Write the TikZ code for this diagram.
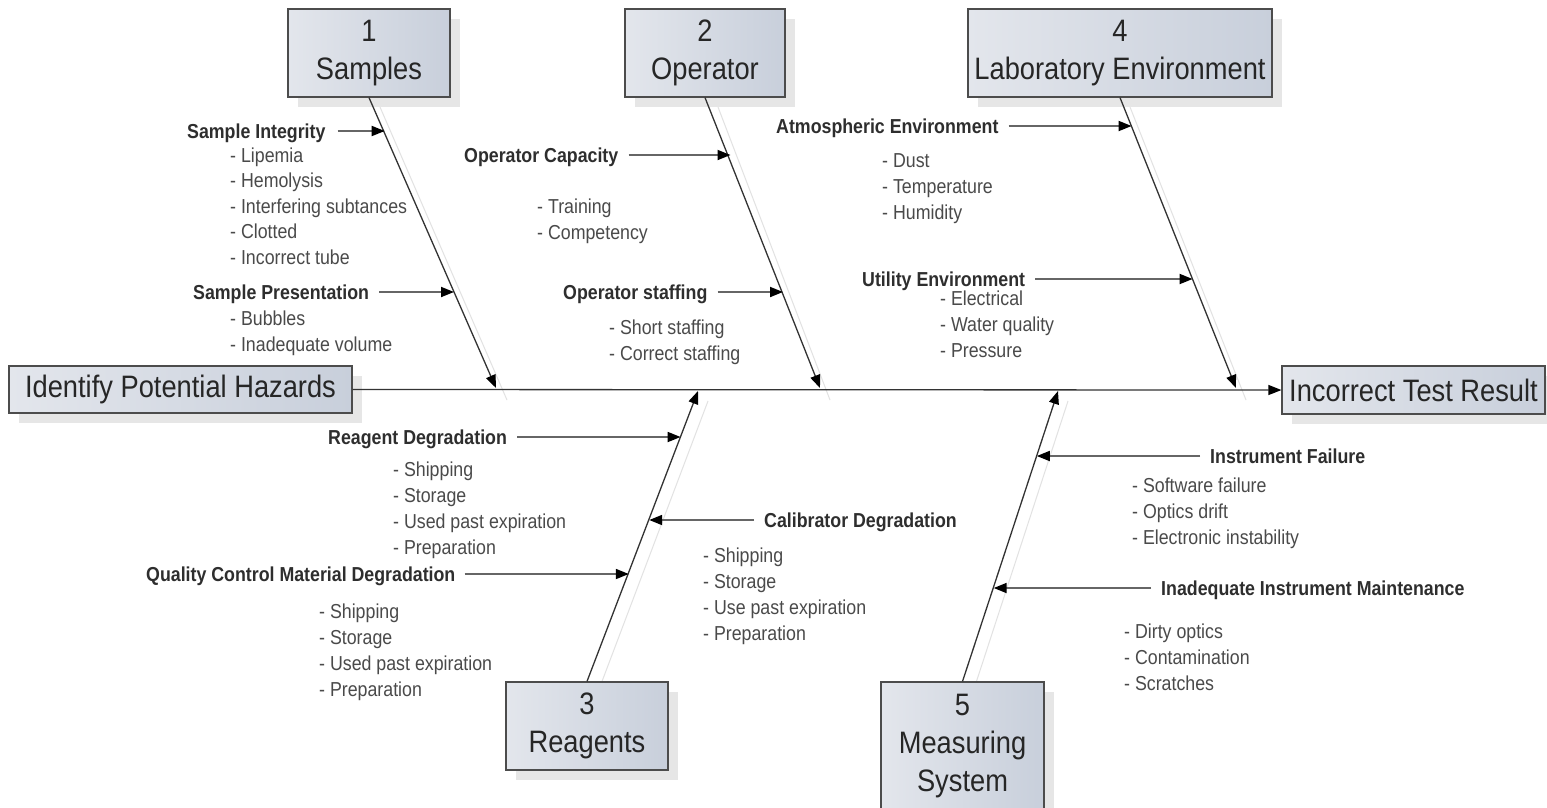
\documentclass[tikz,border=0pt]{standalone}
\usepackage{fontspec}
\setmainfont{Liberation Sans}[FakeStretch=0.88]
\usetikzlibrary{arrows.meta,shadows,calc}
\definecolor{boxl}{HTML}{E3E6EC}
\definecolor{boxr}{HTML}{C8CFDB}
\definecolor{shad}{HTML}{E6E6E6}
\definecolor{itemc}{HTML}{4A4A4A}
\definecolor{labc}{HTML}{2E2E2E}
\definecolor{boneshad}{HTML}{E2E2E2}
\begin{document}
\begin{tikzpicture}[x=1pt,y=-1pt,
  causebox/.style={draw=black!70, line width=1.2pt, left color=boxl, right color=boxr,
    drop shadow={shadow xshift=10pt, shadow yshift=-10pt, fill=shad, opacity=1},
    align=center, font=\fontsize{31}{38}\selectfont, text=black!85, inner sep=0pt},
  bone/.style={draw=black!80, line width=1.3pt, -{Triangle[length=13pt,width=10pt,color=black]}},
  boneshadow/.style={draw=boneshad, line width=1pt},
  subarrow/.style={draw=black!60, line width=1.8pt, -{Triangle[length=13pt,width=10pt,color=black]}},
  lbl/.style={font=\bfseries\fontsize{20.2}{22}\selectfont, text=labc, anchor=base west, inner sep=0pt},
  itm/.style={font=\fontsize{20.2}{22}\selectfont, text=itemc, anchor=base west, inner sep=0pt}]
\useasboundingbox[fill=white] (0,0) rectangle (1547,807);

% bone shadows
\draw[boneshadow] (380,107) -- (507,400);
\draw[boneshadow] (718,107) -- (830,400);
\draw[boneshadow] (1130,107) -- (1246,400);
\draw[boneshadow] (598,692) -- (708,401);
\draw[boneshadow] (973,692) -- (1068,401);

% boxes
\node[causebox, minimum width=162pt, minimum height=88pt] (c1) at (369,53) {1\\Samples};
\node[causebox, minimum width=160pt, minimum height=88pt] (c2) at (705,53) {2\\Operator};
\node[causebox, minimum width=304pt, minimum height=88pt] (c4) at (1120,53) {4\\Laboratory Environment};
\node[causebox, minimum width=162pt, minimum height=88pt] (c3) at (587,726) {3\\Reagents};
\node[causebox, minimum width=163pt, minimum height=128pt] (c5) at (962.5,746) {5\\Measuring\\System};
\node[causebox, minimum width=343pt, minimum height=47pt] (start) at (180.5,389.5) {Identify Potential Hazards};
\node[causebox, minimum width=263pt, minimum height=48pt] (effect) at (1413.5,390) {Incorrect Test Result};

% spine
\draw[bone] (start.east) -- (effect.west);

% bone tips
\coordinate (t1) at (496,388);
\coordinate (t2) at (820,388);
\coordinate (t4) at (1236,388);
\coordinate (t3) at (698,391);
\coordinate (t5) at (1058,391);
\draw[bone] (c1.south) -- (t1);
\draw[bone] (c2.south) -- (t2);
\draw[bone] (c4.south) -- (t4);
\draw[bone] (c3.north) -- (t3);
\draw[bone] (c5.north) -- (t5);

% points on bones
\coordinate (a1) at (384.7,131);
\coordinate (a2) at (454,292);
\coordinate (a3) at (730.5,155);
\coordinate (a4) at (783,292);
\coordinate (a5) at (1131.6,126);
\coordinate (a6) at (1192.6,279);
\coordinate (b1) at (680.6,437);
\coordinate (b2) at (649.2,520);
\coordinate (b3) at (628.8,574);
\coordinate (d1) at (1036.8,456);
\coordinate (d2) at (993.7,588);

% labels
\node[lbl] (l1) at (187,138) {Sample Integrity};
\node[lbl] (l2) at (193,299) {Sample Presentation};
\node[lbl] (l3) at (464,162) {Operator Capacity};
\node[lbl] (l4) at (563,299) {Operator staffing};
\node[lbl] (l5) at (776,133) {Atmospheric Environment};
\node[lbl] (l6) at (862,286) {Utility Environment};
\node[lbl] (l7) at (328,444) {Reagent Degradation};
\node[lbl] (l8) at (764,527) {Calibrator Degradation};
\node[lbl] (l9) at (146,581) {Quality Control Material Degradation};
\node[lbl] (l10) at (1210,463) {Instrument Failure};
\node[lbl] (l11) at (1161,595) {Inadequate Instrument Maintenance};

\draw[subarrow] ([xshift=12pt]l1.east |- a1) -- (a1);
\draw[subarrow] ([xshift=10pt]l2.east |- a2) -- (a2);
\draw[subarrow] ([xshift=10pt]l3.east |- a3) -- (a3);
\draw[subarrow] ([xshift=10pt]l4.east |- a4) -- (a4);
\draw[subarrow] ([xshift=10pt]l5.east |- a5) -- (a5);
\draw[subarrow] ([xshift=10pt]l6.east |- a6) -- (a6);
\draw[subarrow] ([xshift=10pt]l7.east |- b1) -- (b1);
\draw[subarrow] ([xshift=-10pt]l8.west |- b2) -- (b2);
\draw[subarrow] ([xshift=9pt]l9.east |- b3) -- (b3);
\draw[subarrow] ([xshift=-10pt]l10.west |- d1) -- (d1);
\draw[subarrow] ([xshift=-10pt]l11.west |- d2) -- (d2);

% item lists
\foreach \t [count=\k] in {Lipemia,Hemolysis,Interfering subtances,Clotted,Incorrect tube}
  \node[itm] (i1-\k) at (230,162+25.6*\k-25.6) {- \t};
\foreach \t [count=\k] in {Bubbles,Inadequate volume}
  \node[itm] (i2-\k) at (230,325+26*\k-26) {- \t};
\foreach \t [count=\k] in {Training,Competency}
  \node[itm] (i3-\k) at (537,213+26*\k-26) {- \t};
\foreach \t [count=\k] in {Short staffing,Correct staffing}
  \node[itm] (i4-\k) at (609,334+26*\k-26) {- \t};
\foreach \t [count=\k] in {Dust,Temperature,Humidity}
  \node[itm] (i5-\k) at (882,167+26*\k-26) {- \t};
\foreach \t [count=\k] in {Electrical,Water quality,Pressure}
  \node[itm] (i6-\k) at (940,305+26*\k-26) {- \t};
\foreach \t [count=\k] in {Shipping,Storage,Used past expiration,Preparation}
  \node[itm] (i7-\k) at (393,476+26*\k-26) {- \t};
\foreach \t [count=\k] in {Shipping,Storage,Use past expiration,Preparation}
  \node[itm] (i8-\k) at (703,562+26*\k-26) {- \t};
\foreach \t [count=\k] in {Shipping,Storage,Used past expiration,Preparation}
  \node[itm] (i9-\k) at (319,618+26*\k-26) {- \t};
\foreach \t [count=\k] in {Software failure,Optics drift,Electronic instability}
  \node[itm] (i10-\k) at (1132,492+26*\k-26) {- \t};
\foreach \t [count=\k] in {Dirty optics,Contamination,Scratches}
  \node[itm] (i11-\k) at (1124,638+26*\k-26) {- \t};
\end{tikzpicture}
\end{document}
